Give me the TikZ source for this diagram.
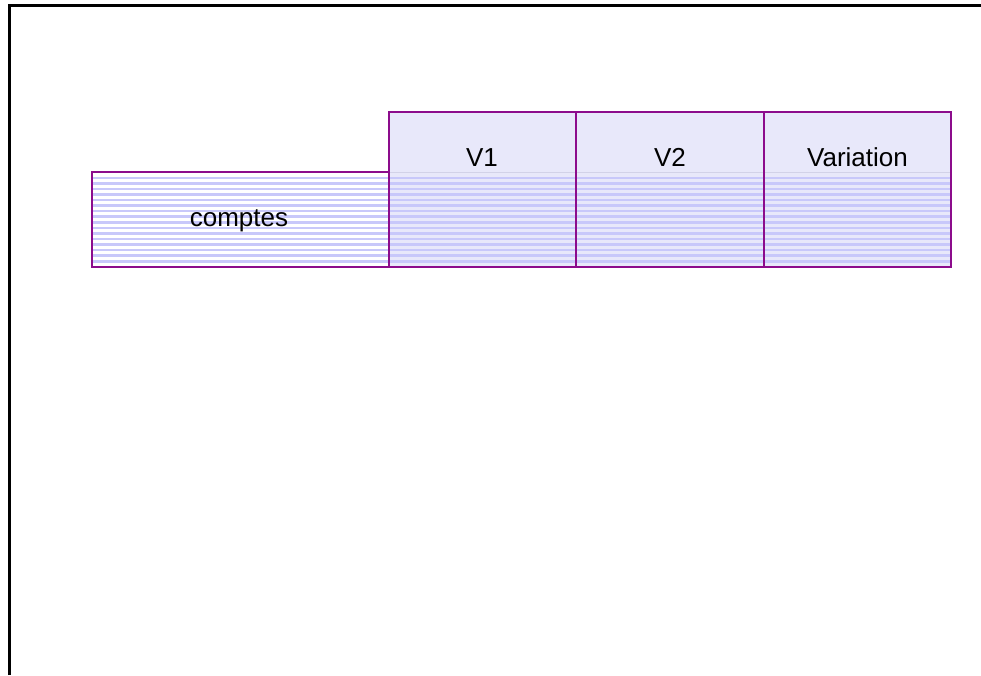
\documentclass[tikz,border=0pt]{standalone}
\usepackage{fontspec}
\setmainfont{Liberation Sans}
\definecolor{boxline}{HTML}{8C0C8C}
\definecolor{headfill}{HTML}{E8E8FA}
\definecolor{hatch}{HTML}{C8C8FA}
\definecolor{sepline}{HTML}{D2D2E8}
\begin{document}
\begin{tikzpicture}[x=1pt,y=-1pt,
    boxline/.style={draw=boxline,line width=2pt},
    lbl/.style={anchor=base,inner sep=0pt,font=\fontsize{26}{31}\selectfont}]
      \useasboundingbox (0,0) rectangle (981,675);
      \def\ytop{112};
      \def\ymid{172};
      \def\ybot{267};
      \def\xa{92};
      \def\xb{389};
      \def\xc{576};
      \def\xd{764};
      \def\xe{951};
      \draw[line width=3pt] (9,675) -- (9,5.3) -- (981,5.3);
      \fill[headfill] (\xb,\ytop) rectangle (\xe,\ybot);
      \foreach \k in {0,...,15} {
        \pgfmathsetmacro\ya{176.5+5.57*\k}
        \pgfmathsetmacro\yb{179+5.57*\k}
        \fill[hatch] (\xa,\ya) rectangle (\xe,\yb);
      }
      \draw[sepline,line width=1pt] (\xb,\ymid) -- (\xe,\ymid);
      \draw[boxline] (\xa,\ymid) rectangle (\xb,\ybot);
      \draw[boxline] (\xb,\ytop) rectangle (\xc,\ybot);
      \draw[boxline] (\xc,\ytop) rectangle (\xd,\ybot);
      \draw[boxline] (\xd,\ytop) rectangle (\xe,\ybot);
      \node[lbl] (comptes) at (239,226.7) {comptes};
      \node[lbl] (v1) at (482,166.7) {V1};
      \node[lbl] (v2) at (670,166.7) {V2};
      \node[lbl] (variation) at (857.5,166.7) {Variation};
    \end{tikzpicture}
\end{document}
